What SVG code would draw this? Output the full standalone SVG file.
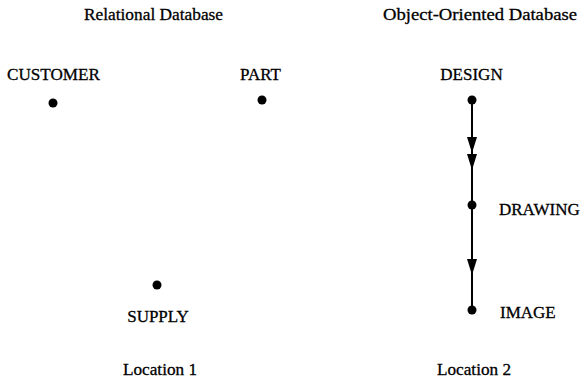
<svg xmlns="http://www.w3.org/2000/svg" width="584" height="379" viewBox="0 0 584 379">
<defs>
<style>
text{font-family:"Liberation Serif","Times New Roman",serif;fill:#000;stroke:#000;stroke-width:0.3;font-size:17px}
.m{text-anchor:middle}
.dot{fill:#000}
.ln{stroke:#000;stroke-width:2;fill:none}
</style>
<polygon id="ah" points="-5,-14 5,-14 0,2" fill="#000"/>
</defs>
<rect width="584" height="379" fill="#fff"/>
<text x="84" y="20" textLength="139" lengthAdjust="spacingAndGlyphs">Relational Database</text>
<text x="383" y="20" textLength="194" lengthAdjust="spacingAndGlyphs">Object-Oriented Database</text>
<g id="customer"><text x="7" y="80" textLength="93" lengthAdjust="spacingAndGlyphs">CUSTOMER</text><circle class="dot" cx="53" cy="103" r="4.5"/></g>
<g id="part"><text class="m" x="260.5" y="80">PART</text><circle class="dot" cx="262" cy="100" r="4.5"/></g>
<g id="supply"><circle class="dot" cx="157" cy="285" r="4.5"/><text class="m" x="158" y="322">SUPPLY</text></g>
<g id="design"><text class="m" x="471.5" y="80">DESIGN</text><circle class="dot" cx="472" cy="100" r="4.5"/></g>
<g id="drawing"><circle class="dot" cx="472" cy="205" r="4.5"/><text x="499" y="215">DRAWING</text></g>
<g id="image"><circle class="dot" cx="472" cy="310" r="4.5"/><text x="500" y="318">IMAGE</text></g>
<g id="connectors">
<line class="ln" x1="472" y1="100" x2="472" y2="310"/>
<use href="#ah" x="472" y="151"/>
<use href="#ah" x="472" y="168"/>
<use href="#ah" x="472" y="273"/>
</g>
<text x="123" y="375" textLength="74" lengthAdjust="spacingAndGlyphs">Location 1</text>
<text x="437" y="375" textLength="74" lengthAdjust="spacingAndGlyphs">Location 2</text>
</svg>
